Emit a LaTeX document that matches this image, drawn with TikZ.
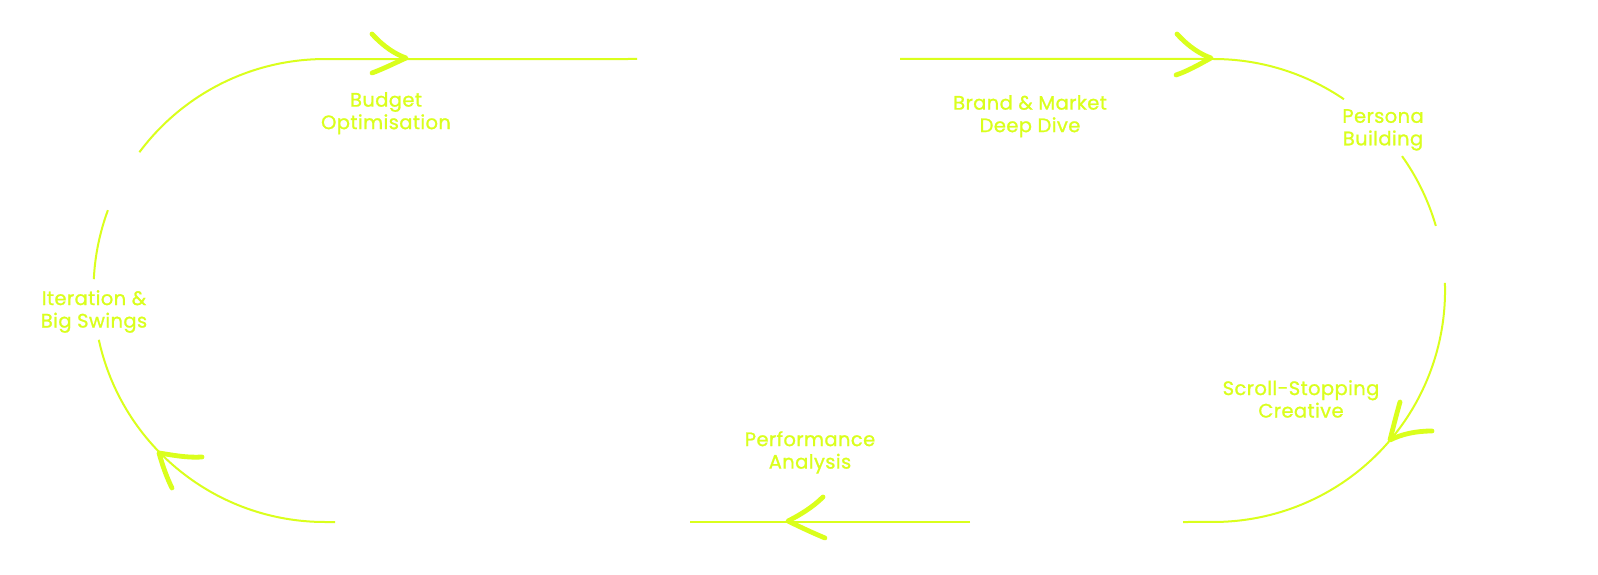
\documentclass[tikz,border=0pt]{standalone}
\usepackage{fontspec}
\setmainfont{Poppins}[FakeBold=1.0, LetterSpace=2.0]
\definecolor{lime}{RGB}{218,255,28}
\begin{document}
\begin{tikzpicture}[x=1pt,y=-1pt,
  track/.style={draw=lime, line width=2pt},
  arm/.style={draw=lime, line width=4.8pt, line cap=round, line join=round},
  lbl/.style={text=lime, font=\fontsize{19.5}{22.5}\selectfont, align=center, anchor=north, inner sep=0pt}]
\useasboundingbox[fill=white] (0,0) rectangle (1598,575);
% track segments (left circle centre (325,290.5), right circle centre (1213.5,290.5), r=231.5)
\draw[track] (335,522) -- (325,522) arc[start angle=90, end angle=167.7, radius=231.5];
\draw[track] (93.8,279.2) arc[start angle=182.8, end angle=200.3, radius=231.5];
\draw[track] (139.4,152.2) arc[start angle=216.7, end angle=270, radius=231.5] -- (637,59);
\draw[track] (900,59) -- (1213.5,59) arc[start angle=-90, end angle=-55.7, radius=231.5];
\draw[track] (1402,156.1) arc[start angle=-35.5, end angle=-16.2, radius=231.5];
\draw[track] (1444.9,282.8) arc[start angle=-1.9, end angle=90, radius=231.5] -- (1183,522);
\draw[track] (970,522) -- (690,522);
% arrow heads
\draw[arm] (372,34) .. controls (384,47) and (395,54) .. (406,58) .. controls (395,63) and (383,69) .. (372,73);
\draw[arm] (1177,34) .. controls (1189,47) and (1200,54) .. (1211,58) .. controls (1200,64) and (1188,71) .. (1176,75);
\draw[arm] (1400,402) .. controls (1396,416) and (1393,428) .. (1390,440) .. controls (1402,434) and (1416,431) .. (1432,431);
\draw[arm] (823,497) .. controls (813,507) and (800,515) .. (788,521) .. controls (800,527) and (813,533) .. (825,538);
\draw[arm] (202,457) .. controls (187,458) and (172,455) .. (159,453) .. controls (163,467) and (167,478) .. (172,488);
% labels
\node[lbl] (budget) at (386,92) {Budget\\Optimisation};
\node[lbl] (brand) at (1030,95) {Brand \& Market\\Deep Dive};
\node[lbl] (persona) at (1383,109) {Persona\\Building};
\node[lbl] (scroll) at (1301,380) {Scroll-Stopping\\Creative};
\node[lbl] (perf) at (810,431) {Performance\\Analysis};
\node[lbl] (iter) at (94,290) {Iteration \&\\Big Swings};
\end{tikzpicture}
\end{document}
